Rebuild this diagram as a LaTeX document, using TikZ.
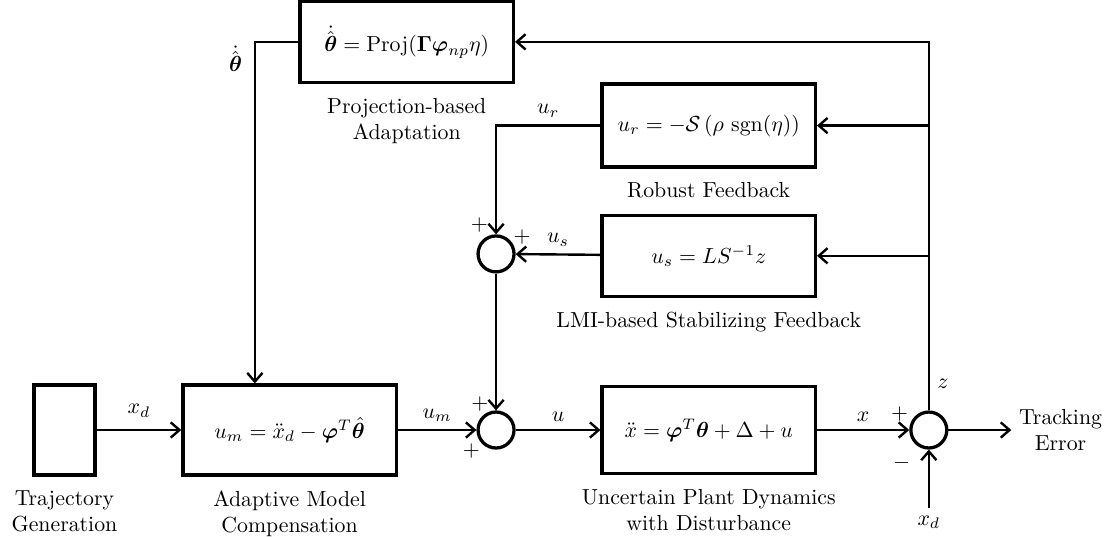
\documentclass[tikz,border=0pt]{standalone}
\usepackage{amsmath,amssymb,bm}
\usetikzlibrary{positioning,arrows.meta}

\tikzset{
  block/.style={draw, line width=1.5pt, minimum width=3.44cm, minimum height=1.4cm},
  sumnode/.style={draw, line width=1.5pt, circle, minimum size=0.58cm, inner sep=0pt},
  sig/.style={line width=1.1pt, -{Straight Barb[length=4pt, width=7pt]}},
  caption/.style={align=center, below=0.1cm of #1},
}

\begin{document}
\begin{tikzpicture}
  \useasboundingbox (0, 0) rectangle (17.95, 8.645);

  \node[block, minimum width=0.98cm, minimum height=1.45cm] (traj) at (1.04, 1.71) {};
  \node[block, minimum height=1.45cm] (amc) at (4.67, 1.71) {$u_m = \ddot{x}_d - \bm{\varphi}^T\hat{\bm{\theta}}$};
  \node[sumnode] (sumu) at (8.0, 1.71) {};
  \node[block] (plant) at (11.43, 1.71) {$\ddot{x} = \bm{\varphi}^T\bm{\theta} + \Delta + u$};
  \node[sumnode] (sume) at (14.98, 1.71) {};
  \coordinate (out) at (16.31, 1.71);
  \coordinate (xdin) at (14.98, 0.45);

  \node[sumnode] (sumf) at (8.0, 4.55) {};
  \node[block, minimum height=1.31cm] (lmi) at (11.43, 4.52) {$u_s = LS^{-1}z$};
  \node[block, minimum height=1.34cm] (rob) at (11.43, 6.62) {$u_r = -\mathcal{S}\left(\rho\, \operatorname{sgn}(\eta)\right)$};
  \node[block, minimum height=1.31cm] (proj) at (6.56, 7.97) {$\dot{\hat{\bm{\theta}}} = \mathrm{Proj}(\bm{\Gamma}\bm{\varphi}_{np}\eta)$};

  \node[caption=traj] (trajlbl) {Trajectory\\Generation};
  \node[caption=amc] (amclbl) {Adaptive Model\\Compensation};
  \node[caption=plant] (plantlbl) {Uncertain Plant Dynamics\\with Disturbance};
  \node[caption=lmi] (lmilbl) {LMI-based Stabilizing Feedback};
  \node[caption=rob] (roblbl) {Robust Feedback};
  \node[caption=proj] (projlbl) {Projection-based\\Adaptation};
  \node[anchor=west, align=center] (errlbl) at (out) {Tracking\\Error};
  \node[anchor=north] (xdlbl) at (xdin) {$x_d$};

  \node (psu1) at ([shift={(-0.26, 0.42)}]sumu) {$+$};
  \node (psu2) at ([shift={(-0.40, -0.34)}]sumu) {$+$};
  \node (psf1) at ([shift={(-0.27, 0.47)}]sumf) {$+$};
  \node (psf2) at ([shift={(0.42, 0.27)}]sumf) {$+$};
  \node (pse1) at ([shift={(-0.47, 0.26)}]sume) {$+$};
  \node (pse2) at ([shift={(-0.44, -0.53)}]sume) {$-$};

  \draw[sig] (traj) -- node[above=2pt]{$x_d$} (amc);
  \draw[sig] (amc) -- node[above]{$u_m$} (sumu);
  \draw[sig] (sumu) -- node[above]{$u$} (plant);
  \draw[sig] (plant) -- node[above]{$x$} (sume);
  \draw[sig] (sume) -- (out);
  \draw[sig] (xdin) -- (sume);

  \draw[sig] (sumf) -- (sumu);
  \draw[sig] (lmi) -- node[above]{$u_s$} (sumf);
  \draw[sig] (rob.west) -| node[pos=0.25, above]{$u_r$} (sumf);

  \draw[sig] (sume.north) |- node[pos=0.036, right]{$z$} (proj.east);
  \draw[sig] (sume |- rob) -- (rob.east);
  \draw[sig] (sume |- lmi) -- (lmi.east);

  \draw[sig] (proj.west) -| node[pos=0.525, left=2pt]{$\dot{\hat{\bm{\theta}}}$} ([xshift=-0.56cm]amc.north);
\end{tikzpicture}
\end{document}
